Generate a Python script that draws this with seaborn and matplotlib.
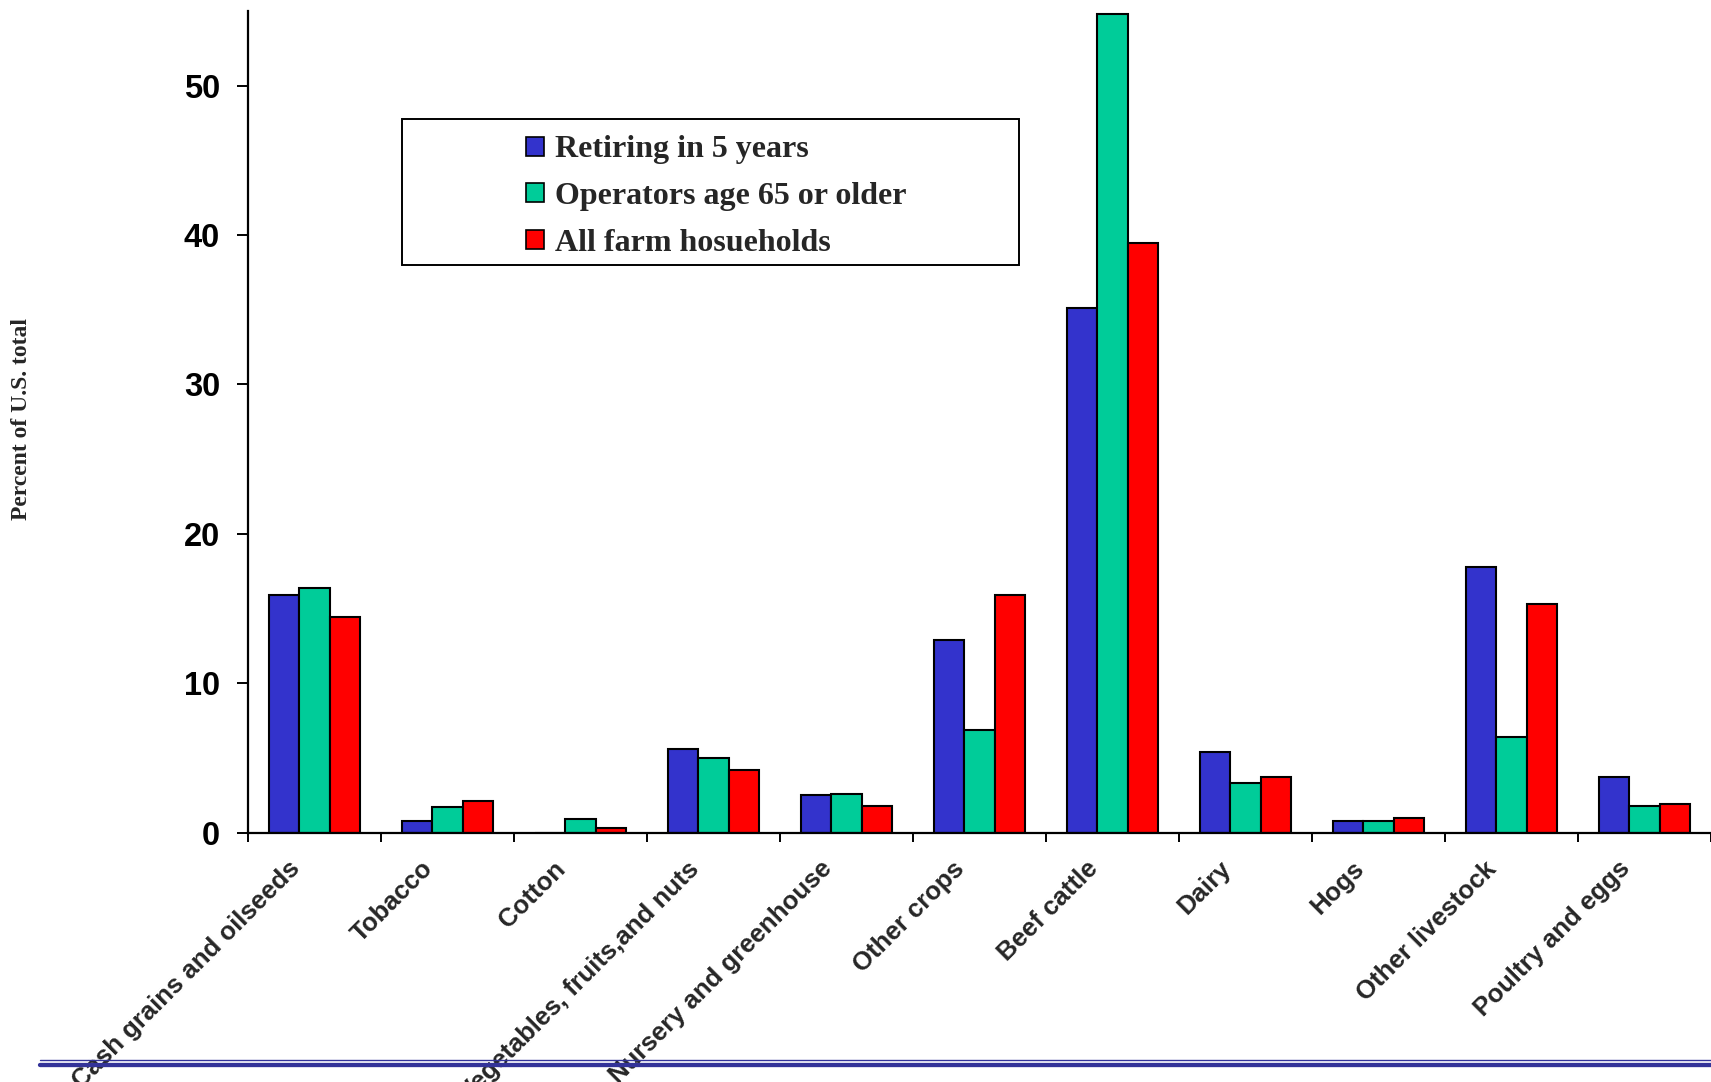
import matplotlib
matplotlib.use("Agg")
import matplotlib.pyplot as plt
import matplotlib.transforms as mtransforms
from matplotlib.patches import Rectangle
from matplotlib.lines import Line2D
import numpy as np
import pandas as pd
import seaborn as sns

categories = [
    "Cash grains and oilseeds", "Tobacco", "Cotton", "Vegetables, fruits,and nuts",
    "Nursery and greenhouse", "Other crops", "Beef cattle", "Dairy", "Hogs",
    "Other livestock", "Poultry and eggs",
]
series_names = ["Retiring in 5 years", "Operators age 65 or older", "All farm hosueholds"]
retiring = [15.9, 0.8, 0.0, 5.6, 2.5, 12.9, 35.1, 5.4, 0.8, 17.8, 3.7]
older65 = [16.4, 1.7, 0.9, 5.0, 2.6, 6.9, 54.8, 3.3, 0.8, 6.4, 1.8]
all_farms = [14.4, 2.1, 0.3, 4.2, 1.75, 15.9, 39.5, 3.7, 1.0, 15.3, 1.9]
y_ticks = [0, 10, 20, 30, 40, 50]

colors = ["#3333CC", "#00CC99", "#FF0000"]

df = pd.DataFrame({
    "category": categories * 3,
    "series": np.repeat(series_names, len(categories)),
    "value": retiring + older65 + all_farms,
})

sns.set_theme(style="ticks")
plt.rcParams["font.family"] = ["Liberation Sans", "DejaVu Sans"]

W, H = 1711, 1082
fig = plt.figure(figsize=(W / 100, H / 100), dpi=100)
ax = fig.add_axes([248 / W, 1 - 832.6 / H, 1 - 248 / W, (832.6 - 11) / H])

sns.barplot(
    data=df, x="category", y="value", hue="series", order=categories,
    hue_order=series_names, palette=colors, saturation=1, width=0.69, gap=0,
    edgecolor="black", linewidth=1.5, ax=ax, legend=True,
)

ax.set_xlim(-0.5, len(categories) - 0.5)
ax.set_ylim(0, 55)
ax.set_yticks(y_ticks)
ax.set_yticklabels([str(t) for t in y_ticks], fontsize=23.5, fontweight="bold")
ax.set_xlabel("")
ax.set_ylabel("")

for side in ("top", "right"):
    ax.spines[side].set_visible(False)
for side in ("left", "bottom"):
    ax.spines[side].set_linewidth(1.6)
    ax.spines[side].set_color("black")

ax.tick_params(axis="y", direction="out", length=8, width=1.4, pad=12, colors="black")

# category separators as minor ticks, labels centred on categories
ax.set_xticks(np.arange(-0.5, len(categories) - 0.4, 1.0), minor=True)
ax.tick_params(axis="x", which="minor", direction="out", length=6.5, width=1.4, colors="black")
ax.tick_params(axis="x", which="major", length=0, pad=0)
ax.set_xticks(range(len(categories)))
ax.set_xticklabels(categories, fontsize=18.5, fontweight="bold", rotation=45,
                   ha="right", va="top", rotation_mode="anchor")
offset = mtransforms.ScaledTranslation(-27 / 100, -24 / 100, fig.dpi_scale_trans)
for lbl in ax.get_xticklabels():
    lbl.set_transform(lbl.get_transform() + offset)

# legend in a separate framed box
handles, labels = ax.get_legend_handles_labels()
ax.get_legend().remove()
for h in handles:
    h.set_edgecolor("black")
    h.set_linewidth(1.2)
fig.legend(
    handles, labels, loc="center left",
    bbox_to_anchor=(526 / W, 1 - 196.5 / H), bbox_transform=fig.transFigure,
    frameon=False, borderpad=0, borderaxespad=0, handlelength=0.55,
    handleheight=0.55, handletextpad=0.35, labelspacing=0.55,
    prop={"family": "Liberation Serif", "weight": "bold", "size": 23},
)
fig.add_artist(Rectangle((401.6 / W, 1 - 265.2 / H), (1019.2 - 401.6) / W,
                         (265.2 - 118.9) / H, transform=fig.transFigure,
                         fill=False, edgecolor="black", linewidth=1.4))

fig.text(22 / W, 1 - 418.5 / H, "Percent of U.S. total", rotation=90,
         ha="center", va="center", fontsize=17, fontweight="bold",
         family="Liberation Serif")

# double rule along the bottom
fig.add_artist(Line2D([40 / W, 1], [1 - 1059.5 / H] * 2, transform=fig.transFigure,
                      color="#333399", linewidth=1.0, zorder=10))
fig.add_artist(Line2D([40 / W, 1], [1 - 1064.5 / H] * 2, transform=fig.transFigure,
                      color="#333399", linewidth=3.1, zorder=10))

fig.savefig("out.png", dpi=100, facecolor="white")
